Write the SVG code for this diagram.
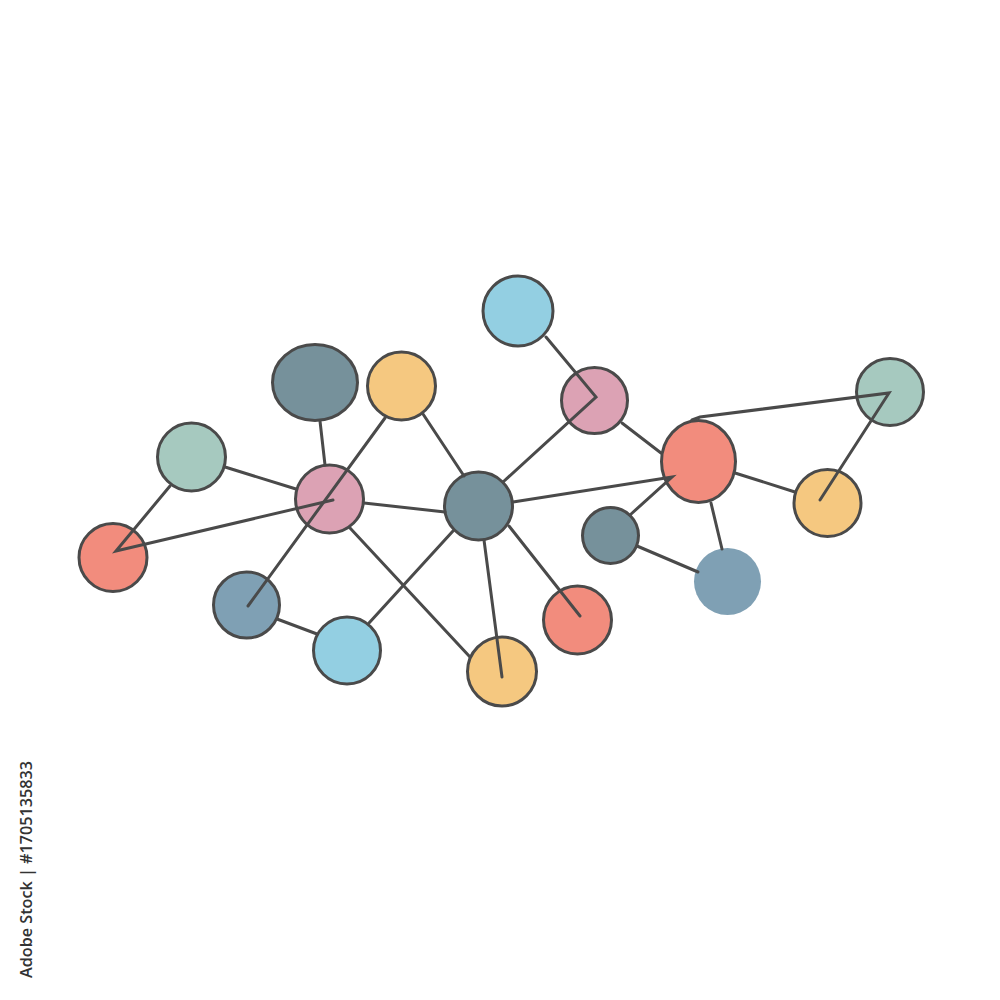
<svg xmlns="http://www.w3.org/2000/svg" width="1000" height="1000" viewBox="0 0 1000 1000">
<style>
.n{stroke:#4a4a4a;stroke-width:3}
.c{fill:none;stroke:#4a4a4a;stroke-width:3;stroke-linecap:round;stroke-linejoin:miter}
.red{fill:#F28C7D}.pink{fill:#DCA2B4}.teal{fill:#76919B}.steel{fill:#7FA0B4}
.sky{fill:#93CFE2}.yel{fill:#F5C880}.green{fill:#A6C9BF}
.id{font-family:"Open Sans","Liberation Sans",sans-serif;font-size:17px;font-weight:600;fill:#333}
</style>
<rect width="1000" height="1000" fill="#fff"/>
<g id="nodes">
<g id="n1"><circle class="n sky" cx="518" cy="311" r="35"/></g>
<g id="n2"><circle class="n pink" cx="594.5" cy="400.5" r="33"/></g>
<g id="n3"><ellipse class="n red" cx="698.5" cy="461.5" rx="37" ry="41"/></g>
<g id="n4"><circle class="n green" cx="890" cy="392" r="33.5"/></g>
<g id="n5"><circle class="n yel" cx="827.5" cy="503" r="33.5"/></g>
<g id="n6"><circle class="n teal" cx="610.5" cy="535.5" r="28"/></g>
<g id="n7"><circle class="steel" cx="727.5" cy="581.5" r="33.5"/></g>
<g id="n8"><circle class="n teal" cx="478.5" cy="506" r="34"/></g>
<g id="n9"><circle class="n red" cx="577.5" cy="620" r="34"/></g>
<g id="n10"><circle class="n yel" cx="502" cy="671.5" r="34.5"/></g>
<g id="n11"><circle class="n sky" cx="347" cy="650.5" r="33.5"/></g>
<g id="n12"><circle class="n steel" cx="246.5" cy="605" r="33"/></g>
<g id="n13"><circle class="n red" cx="113" cy="557.5" r="34"/></g>
<g id="n14"><circle class="n green" cx="191.5" cy="457" r="34"/></g>
<g id="n15"><circle class="n pink" cx="329.5" cy="499" r="34"/></g>
<g id="n16"><ellipse class="n teal" cx="315" cy="382.5" rx="42.5" ry="38"/></g>
<g id="n17"><circle class="n yel" cx="401.5" cy="386" r="34"/></g>
</g>
<g id="connectors">
<line class="c" x1="320" y1="421" x2="325" y2="465"/>
<line class="c" x1="225" y1="467" x2="296" y2="489"/>
<line class="c" x1="364" y1="503" x2="445" y2="512"/>
<line class="c" x1="423" y1="414" x2="464" y2="476"/>
<polyline class="c" points="503,482 596,397 546,337"/>
<line class="c" x1="622" y1="423" x2="661" y2="453"/>
<polyline class="c" points="513,502 672,477 630,515"/>
<polyline class="c" points="692,420 700,417 889,393 820,500"/>
<line class="c" x1="735" y1="473" x2="795" y2="492"/>
<line class="c" x1="711" y1="503" x2="722" y2="549"/>
<line class="c" x1="637" y1="546" x2="698" y2="572"/>
<line class="c" x1="509" y1="526" x2="580" y2="616"/>
<line class="c" x1="484" y1="540" x2="502" y2="677"/>
<line class="c" x1="453" y1="531" x2="369" y2="623"/>
<line class="c" x1="350" y1="528" x2="470" y2="657"/>
<line class="c" x1="277" y1="619" x2="317" y2="634"/>
<polyline class="c" points="170,486 116,551 333,500"/>
<line class="c" x1="248" y1="606" x2="385" y2="418"/>
</g>
<text class="id" transform="translate(32,978) rotate(-90)" textLength="217" lengthAdjust="spacingAndGlyphs">Adobe Stock | #1705135833</text>
</svg>
